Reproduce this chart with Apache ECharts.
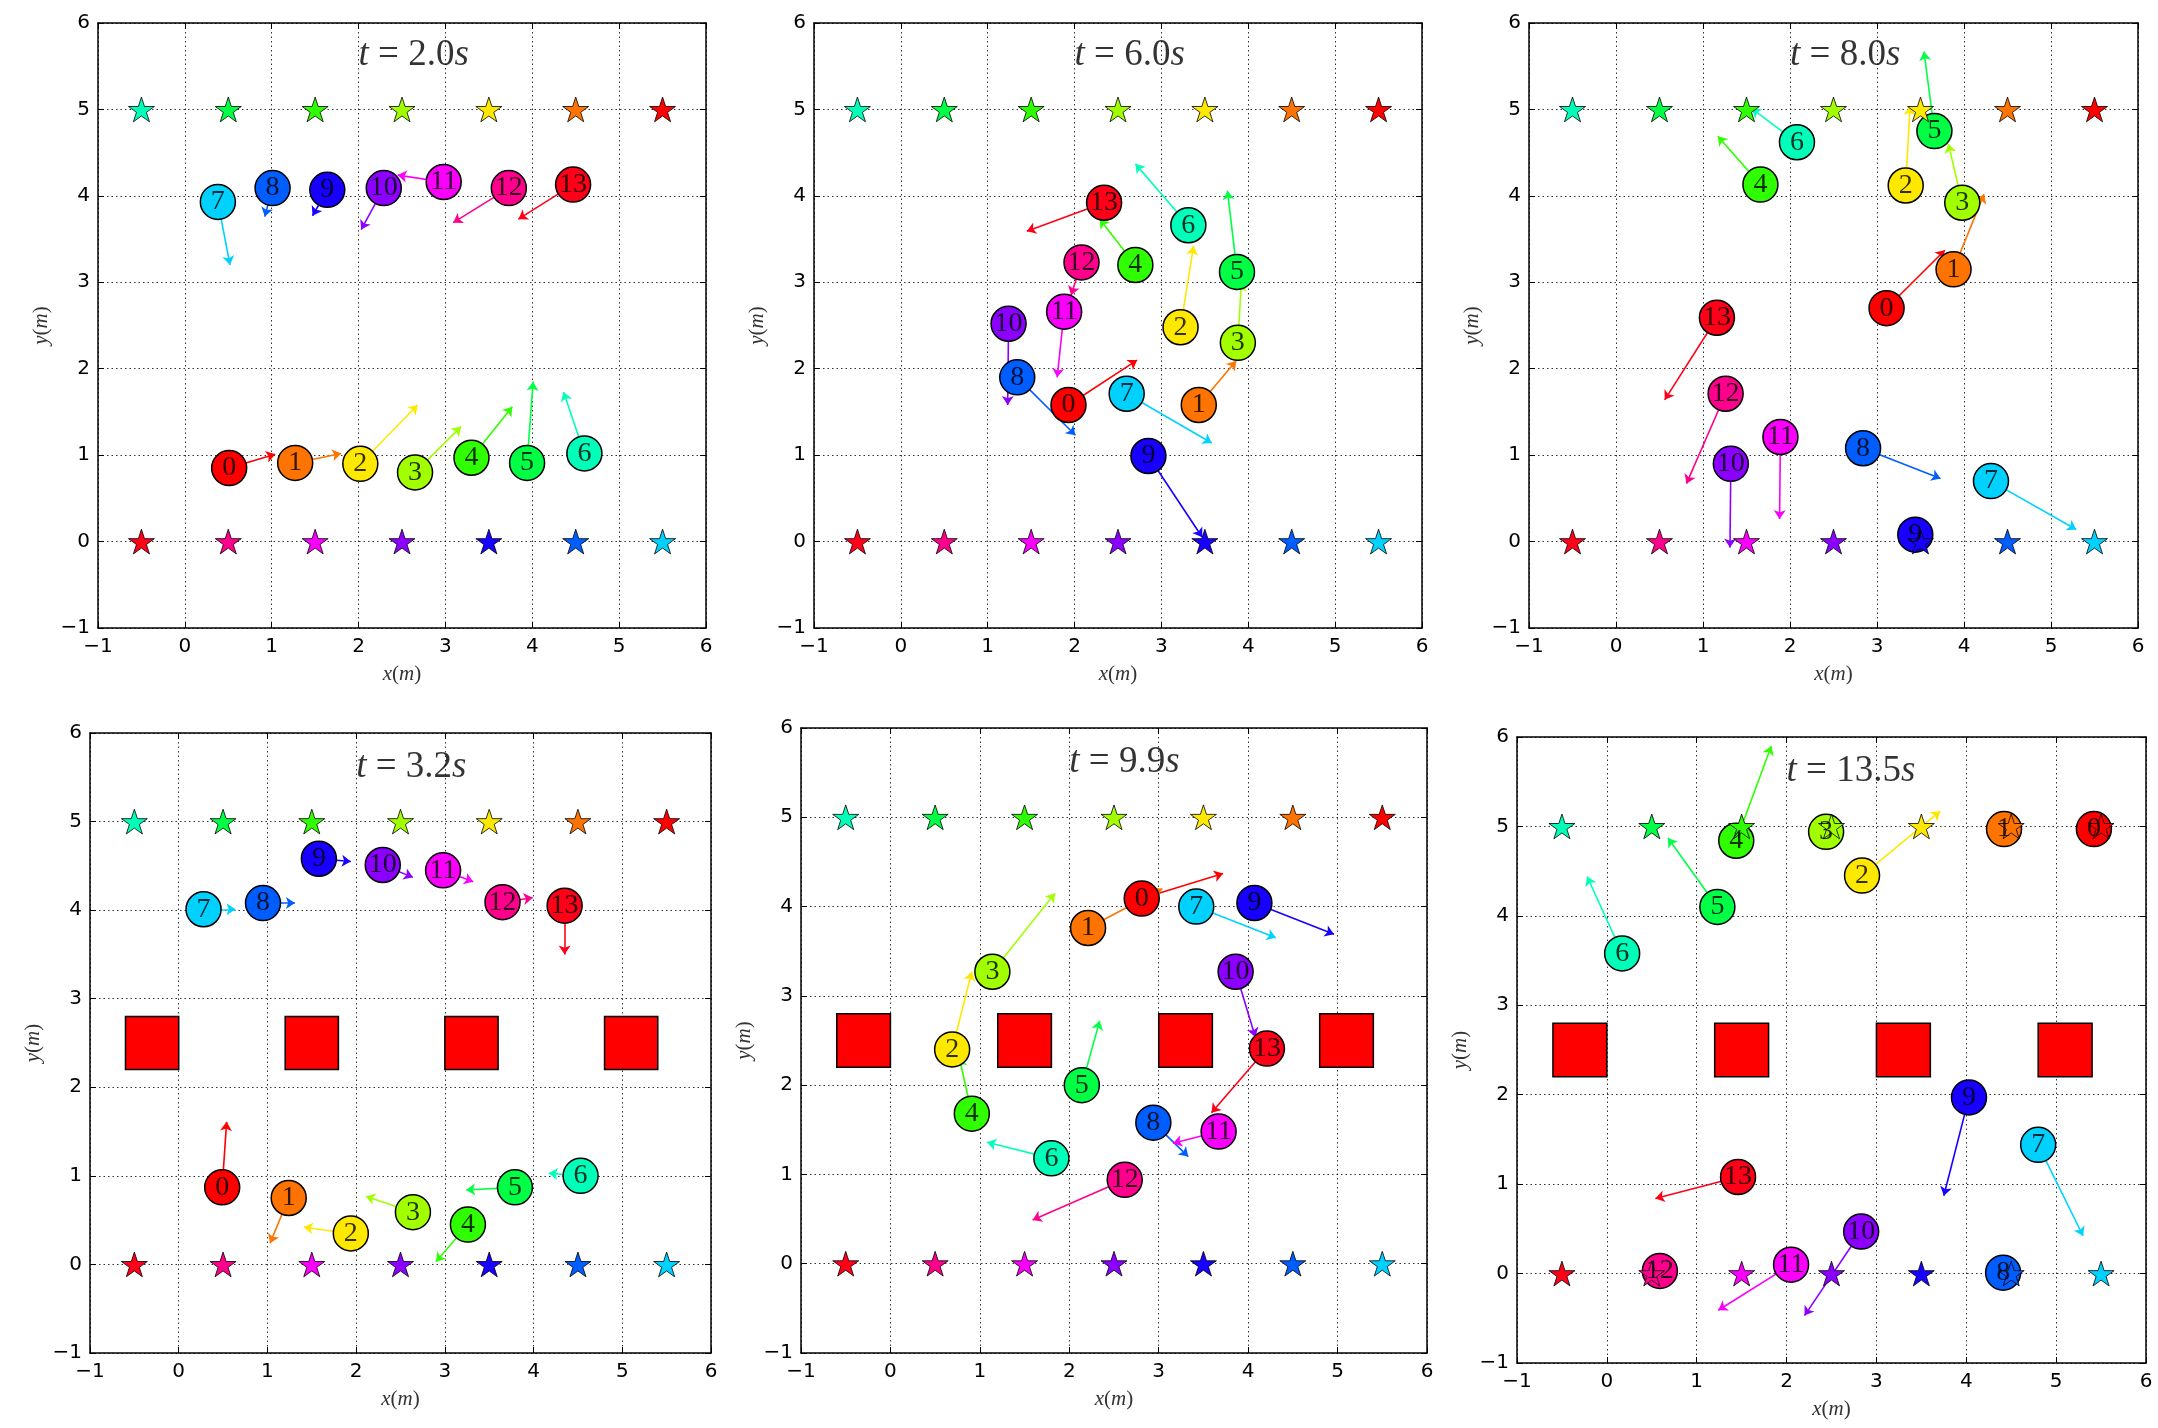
<!DOCTYPE html>
<html><head><meta charset="utf-8">
<script src="https://cdn.jsdelivr.net/npm/echarts@6/dist/echarts.min.js"></script>
<style>html,body{margin:0;padding:0;background:#fff}#c{width:2158px;height:1428px}</style>
</head><body><div id="c"></div>
<script>
// ---------------- data ----------------
const panelTimes = ['2.0', '6.0', '8.0', '3.2', '9.9', '13.5'];
const panelHasObstacles = [false, false, false, true, true, true];
const agentIds = [0, 1, 2, 3, 4, 5, 6, 7, 8, 9, 10, 11, 12, 13];
const agentColors = ['#ff0000', '#ff7400', '#ffe800', '#a2ff00', '#2fff00', '#00ff45', '#00ffb9',
                     '#00d1ff', '#005dff', '#1700ff', '#8b00ff', '#f900fa', '#ff008c', '#ff0018'];
const goalX = [5.5, 4.5, 3.5, 2.5, 1.5, 0.5, -0.5, 5.5, 4.5, 3.5, 2.5, 1.5, 0.5, -0.5];
const goalY = [5, 5, 5, 5, 5, 5, 5, 0, 0, 0, 0, 0, 0, 0];
const obstacleXMin = [-0.6, 1.2, 3.0, 4.8];
const obstacleXMax = [0.0, 1.8, 3.6, 5.4];
const obstacleYMin = [2.2, 2.2, 2.2, 2.2];
const obstacleYMax = [2.8, 2.8, 2.8, 2.8];
const tickValues = [-1, 0, 1, 2, 3, 4, 5, 6];
const tickLabels = ['\u22121', '0', '1', '2', '3', '4', '5', '6'];

// t = 2.0 s
const posX_t20 = [0.51, 1.27, 2.02, 2.65, 3.30, 3.94, 4.60, 0.38, 1.01, 1.64, 2.29, 2.98, 3.73, 4.47];
const posY_t20 = [0.85, 0.91, 0.90, 0.80, 0.97, 0.91, 1.02, 3.93, 4.09, 4.07, 4.09, 4.16, 4.09, 4.13];
const tipX_t20 = [1.04, 1.80, 2.68, 3.18, 3.77, 4.01, 4.36, 0.52, 0.92, 1.47, 2.03, 2.45, 3.09, 3.84];
const tipY_t20 = [1.01, 1.02, 1.58, 1.33, 1.56, 1.85, 1.73, 3.20, 3.76, 3.77, 3.61, 4.24, 3.69, 3.73];
// t = 6.0 s
const posX_t60 = [1.93, 3.43, 3.22, 3.88, 2.70, 3.87, 3.31, 2.60, 1.34, 2.85, 1.24, 1.88, 2.08, 2.34];
const posY_t60 = [1.58, 1.58, 2.48, 2.30, 3.20, 3.12, 3.66, 1.71, 1.90, 0.99, 2.52, 2.66, 3.23, 3.92];
const tipX_t60 = [2.72, 3.86, 3.37, 3.92, 2.29, 3.76, 2.70, 3.58, 2.01, 3.47, 1.23, 1.80, 1.96, 1.45];
const tipY_t60 = [2.10, 2.09, 3.42, 3.00, 3.73, 4.06, 4.37, 1.14, 1.23, 0.05, 1.58, 1.90, 2.85, 3.59];
// t = 8.0 s
const posX_t80 = [3.11, 3.88, 3.33, 3.98, 1.66, 3.66, 2.08, 4.31, 2.84, 3.44, 1.32, 1.89, 1.26, 1.16];
const posY_t80 = [2.70, 3.15, 4.12, 3.92, 4.13, 4.75, 4.62, 0.70, 1.08, 0.08, 0.90, 1.21, 1.71, 2.59];
const tipX_t80 = [3.78, 4.23, 3.38, 3.82, 1.17, 3.54, 1.56, 5.29, 3.73, 3.52, 1.31, 1.88, 0.81, 0.56];
const tipY_t80 = [3.37, 4.02, 5.04, 4.60, 4.69, 5.67, 5.01, 0.14, 0.73, 0.00, -0.07, 0.26, 0.67, 1.64];
// t = 3.2 s
const posX_t32 = [0.49, 1.24, 1.94, 2.64, 3.26, 3.79, 4.53, 0.28, 0.95, 1.58, 2.30, 2.98, 3.65, 4.35];
const posY_t32 = [0.87, 0.75, 0.35, 0.59, 0.45, 0.87, 1.00, 4.01, 4.08, 4.58, 4.51, 4.45, 4.09, 4.05];
const tipX_t32 = [0.54, 1.03, 1.41, 2.11, 2.90, 3.24, 4.17, 0.64, 1.31, 1.94, 2.64, 3.32, 3.99, 4.35];
const tipY_t32 = [1.61, 0.24, 0.42, 0.77, 0.03, 0.84, 1.03, 4.01, 4.08, 4.55, 4.37, 4.32, 4.14, 3.50];
// t = 9.9 s
const posX_t99 = [2.81, 2.21, 0.69, 1.14, 0.91, 2.14, 1.80, 3.42, 2.94, 4.07, 3.86, 3.67, 2.62, 4.21];
const posY_t99 = [4.09, 3.76, 2.40, 3.27, 1.68, 2.00, 1.18, 4.00, 1.58, 4.04, 3.27, 1.48, 0.94, 2.41];
const tipX_t99 = [3.72, 3.04, 0.91, 1.84, 0.77, 2.34, 1.08, 4.31, 3.33, 4.96, 4.08, 3.16, 1.59, 3.59];
const tipY_t99 = [4.37, 4.20, 3.27, 4.15, 2.31, 2.72, 1.36, 3.65, 1.20, 3.69, 2.54, 1.35, 0.49, 1.69];
// t = 13.5 s
const posX_t135 = [5.42, 4.42, 2.84, 2.44, 1.44, 1.23, 0.17, 4.80, 4.41, 4.03, 2.83, 2.05, 0.59, 1.46];
const posY_t135 = [4.97, 4.97, 4.45, 4.94, 4.84, 4.10, 3.58, 1.44, 0.01, 1.97, 0.47, 0.10, 0.03, 1.08];
const tipX_t135 = [5.50, 4.50, 3.71, 2.50, 1.83, 0.68, -0.22, 5.30, 4.50, 3.75, 2.20, 1.24, 0.50, 0.54];
const tipY_t135 = [5.00, 5.00, 5.17, 5.00, 5.90, 4.87, 4.44, 0.42, 0.00, 0.87, -0.47, -0.41, 0.00, 0.84];

const panelPosX = [posX_t20, posX_t60, posX_t80, posX_t32, posX_t99, posX_t135];
const panelPosY = [posY_t20, posY_t60, posY_t80, posY_t32, posY_t99, posY_t135];
const panelTipX = [tipX_t20, tipX_t60, tipX_t80, tipX_t32, tipX_t99, tipX_t135];
const panelTipY = [tipY_t20, tipY_t60, tipY_t80, tipY_t32, tipY_t99, tipY_t135];
const titleX = 2.0, titleY = 5.5;

// ---------------- layout / style ----------------
const gridRects = [
  {left: 98, top: 23, width: 608, height: 605},
  {left: 814, top: 23, width: 608, height: 605},
  {left: 1529, top: 23, width: 609, height: 605},
  {left: 90, top: 733, width: 621, height: 620},
  {left: 801, top: 728, width: 626, height: 625},
  {left: 1517, top: 737, width: 629, height: 626}
];
const SERIF = '"Liberation Serif", "DejaVu Serif", serif';
const SANS = '"DejaVu Sans", sans-serif';

function starPath() {
  let s = '';
  for (let i = 0; i < 10; i++) {
    const a = -Math.PI / 2 + i * Math.PI / 5;
    const r = (i % 2) ? 38.2 : 100;
    s += (i ? 'L' : 'M') + (r * Math.cos(a)).toFixed(2) + ' ' + (r * Math.sin(a)).toFixed(2) + ' ';
  }
  return 'path://' + s + 'Z';
}
const STAR = starPath();
const fmtTick = v => { const i = tickValues.indexOf(Math.round(v)); return i >= 0 ? tickLabels[i] : ''; };

const grids = [], xAxes = [], yAxes = [], series = [];
const nameStyle = {
  fontFamily: SERIF, fontSize: 21, color: '#333',
  rich: {i: {fontFamily: SERIF, fontStyle: 'italic', fontSize: 21, color: '#333'}}
};

gridRects.forEach((r, k) => {
  grids.push(Object.assign({containLabel: false}, r));
  const common = {
    gridIndex: k, type: 'value', min: -1, max: 6, interval: 1,
    axisLine: {show: true, onZero: false, lineStyle: {color: '#000', width: 1.5}},
    axisTick: {show: true, inside: true, length: 6, lineStyle: {color: '#000', width: 1}}
  };
  xAxes.push(Object.assign({}, common, {
    position: 'bottom',
    axisLabel: {show: true, formatter: fmtTick, fontFamily: SANS, fontSize: 20, color: '#000', margin: 9},
    splitLine: {show: true, lineStyle: {color: '#000', width: 0.8, type: [1.5, 3]}},
    name: '{i|x}({i|m})', nameLocation: 'middle', nameGap: 36, nameTextStyle: nameStyle
  }));
  xAxes.push(Object.assign({}, common, {
    position: 'top', axisLabel: {show: false}, splitLine: {show: false}
  }));
  yAxes.push(Object.assign({}, common, {
    position: 'left',
    axisLabel: {show: true, formatter: fmtTick, fontFamily: SANS, fontSize: 20, color: '#000', margin: 8},
    splitLine: {show: true, lineStyle: {color: '#000', width: 0.8, type: [1.5, 3]}},
    name: '{i|y}({i|m})', nameLocation: 'middle', nameGap: 46, nameRotate: 90, nameTextStyle: nameStyle
  }));
  yAxes.push(Object.assign({}, common, {
    position: 'right', axisLabel: {show: false}, splitLine: {show: false}
  }));

  const xi = 2 * k, yi = 2 * k;
  const px = panelPosX[k], py = panelPosY[k], tx = panelTipX[k], ty = panelTipY[k];

  if (panelHasObstacles[k]) {
    series.push({
      type: 'custom', xAxisIndex: xi, yAxisIndex: yi, z: 1, silent: true,
      data: obstacleXMin.map((v, i) => [v, obstacleXMax[i], obstacleYMin[i], obstacleYMax[i]]),
      encode: {x: [0, 1], y: [2, 3]},
      renderItem: (params, api) => {
        const p0 = api.coord([api.value(0), api.value(3)]);
        const p1 = api.coord([api.value(1), api.value(2)]);
        return {type: 'rect', shape: {x: p0[0], y: p0[1], width: p1[0] - p0[0], height: p1[1] - p0[1]},
                style: {fill: '#ff0000', stroke: '#000', lineWidth: 1.5}};
      }
    });
  }

  series.push({
    type: 'lines', coordinateSystem: 'cartesian2d', xAxisIndex: xi, yAxisIndex: yi, z: 2, silent: true,
    symbol: ['none', 'arrow'], symbolSize: 9,
    lineStyle: {width: 1.6, opacity: 1, curveness: 0},
    data: agentIds.map(i => ({coords: [[px[i], py[i]], [tx[i], ty[i]]], lineStyle: {color: agentColors[i], opacity: 1}}))
  });

  series.push({
    type: 'scatter', xAxisIndex: xi, yAxisIndex: yi, z: 3, silent: true,
    symbol: 'circle', symbolSize: 35,
    itemStyle: {opacity: 1},
    data: agentIds.map(i => ({value: [px[i], py[i]], itemStyle: {color: agentColors[i], borderColor: '#000', borderWidth: 1.5, opacity: 1}}))
  });

  series.push({
    type: 'scatter', xAxisIndex: xi, yAxisIndex: yi, z: 4, silent: true,
    symbol: STAR, symbolKeepAspect: true, symbolSize: 26,
    itemStyle: {opacity: 1},
    data: agentIds.map(i => ({value: [goalX[i], goalY[i]], itemStyle: {color: agentColors[i], borderColor: '#000', borderWidth: 0.8, opacity: 1}}))
  });

  series.push({
    type: 'scatter', xAxisIndex: xi, yAxisIndex: yi, z: 5, silent: true,
    symbol: 'circle', symbolSize: 35, itemStyle: {color: 'rgba(0,0,0,0)'},
    label: {show: true, position: 'inside', formatter: p => String(agentIds[p.dataIndex]),
            fontFamily: SERIF, fontSize: 28, color: '#000'},
    data: agentIds.map(i => [px[i], py[i]])
  });

  series.push({
    type: 'scatter', xAxisIndex: xi, yAxisIndex: yi, z: 5, silent: true,
    symbol: 'circle', symbolSize: 1, itemStyle: {color: 'rgba(0,0,0,0)'},
    label: {show: true, position: 'inside', align: 'left', verticalAlign: 'bottom', offset: [0, 8],
            formatter: '{i|t}{n| = ' + panelTimes[k] + '}{i|s}',
            rich: {i: {fontFamily: SERIF, fontStyle: 'italic', fontSize: 37, color: '#000'},
                   n: {fontFamily: SERIF, fontSize: 37, color: '#000'}}},
    data: [[titleX, titleY]]
  });
});

const chart = echarts.init(document.getElementById('c'), null, {renderer: 'canvas'});
chart.setOption({
  backgroundColor: '#ffffff',
  animation: false,
  grid: grids, xAxis: xAxes, yAxis: yAxes, series: series
});
</script></body></html>
